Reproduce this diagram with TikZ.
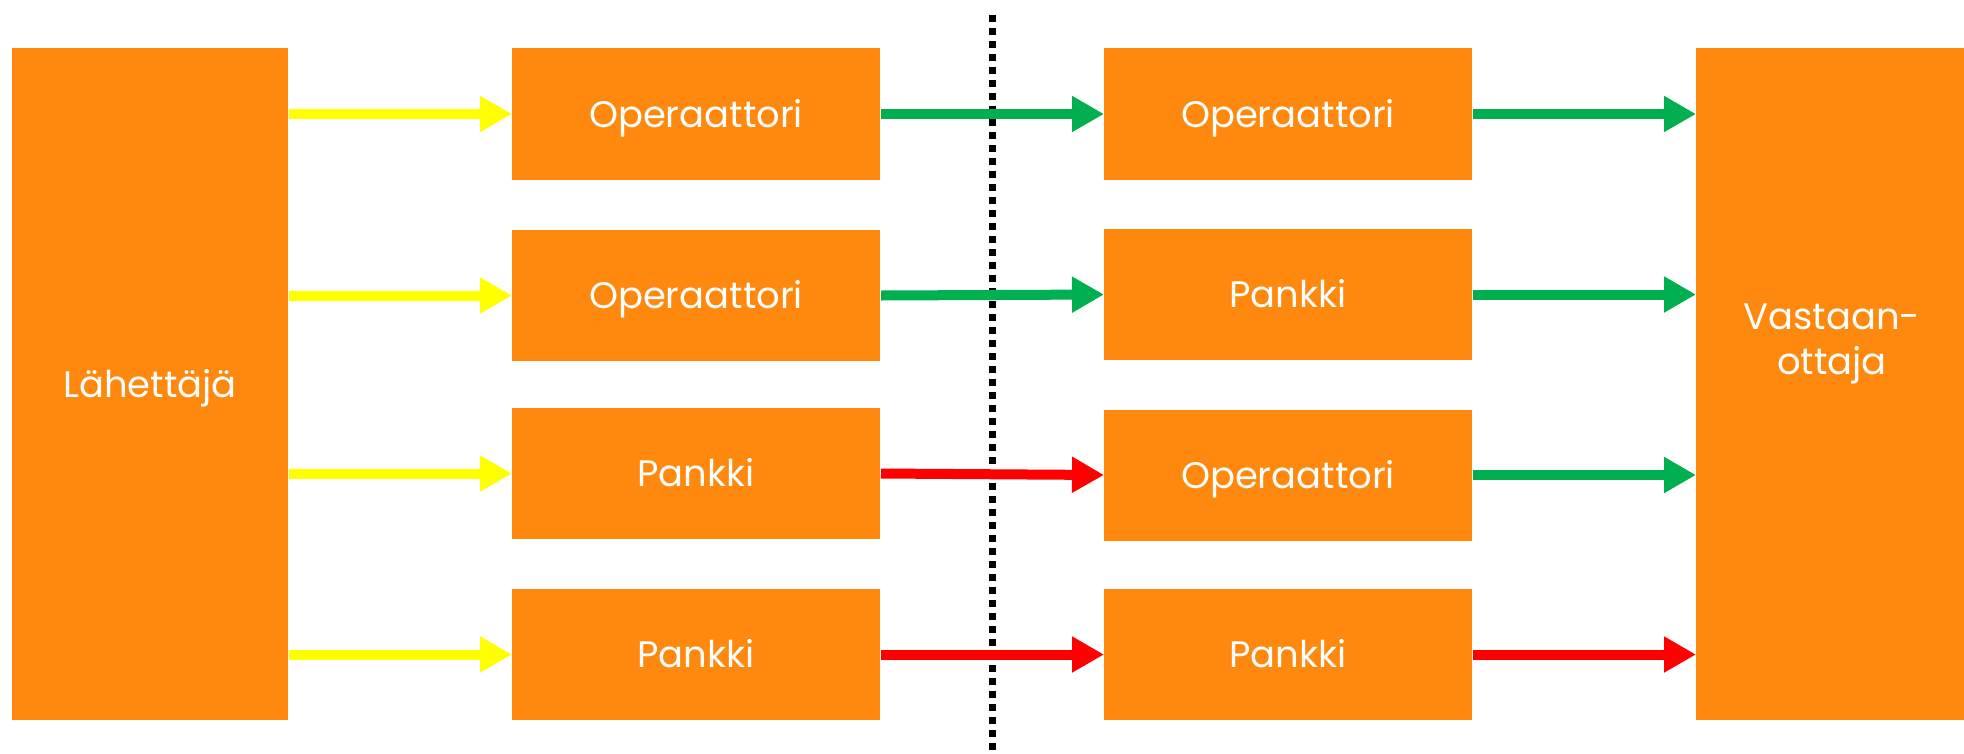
\documentclass[tikz,border=0pt]{standalone}
\usepackage{fontspec}
\setmainfont{Poppins}
\usepackage{tikz}
\usetikzlibrary{arrows.meta,calc}
\definecolor{boxorange}{RGB}{255,136,14}
\definecolor{okgreen}{RGB}{0,176,80}
\definecolor{okyellow}{RGB}{255,255,0}
\definecolor{nored}{RGB}{255,0,0}

\begin{document}
\begin{tikzpicture}[>={Triangle[length=0.32cm,width=0.34cm]},
  line width=0.1cm,
  main node/.style={rectangle,fill=boxorange,inner sep=0pt,outer sep=0pt,text=white,
    font=\fontsize{10.5}{12.8}\selectfont,align=center,text height=7.4pt,text depth=0pt},
  small box/.style={main node,minimum width=3.68cm,minimum height=1.31cm}]
\useasboundingbox (0,0) rectangle (19.64,-7.53);

\node[main node,minimum width=2.76cm,minimum height=6.72cm] (L) at (1.50,-3.84) {Lähettäjä};
\node[main node,minimum width=2.72cm,minimum height=6.72cm,text depth=12.8pt] (V) at (18.32,-3.84) {Vastaan-\\ottaja};

\node[small box,minimum height=1.32cm] (A1) at (6.96,-1.14) {Operaattori};
\node[small box] (A2) at (6.96,-2.955) {Operaattori};
\node[small box] (A3) at (6.96,-4.735) {Pankki};
\node[small box] (A4) at (6.96,-6.545) {Pankki};

\node[small box,minimum height=1.32cm] (B1) at (12.88,-1.14) {Operaattori};
\node[small box] (B2) at (12.88,-2.945) {Pankki};
\node[small box] (B3) at (12.88,-4.75) {Operaattori};
\node[small box] (B4) at (12.88,-6.545) {Pankki};

% raja
\draw[line width=0.07cm,dash pattern=on 0.07cm off 0.06cm] (9.92,-0.15) -- (9.92,-7.53);

\path[->,shorten <=0.01cm]
($(L.east |- A1.west)$) edge [okyellow] (A1.west)
($(L.east |- A2.west)$) edge [okyellow] (A2.west)
($(L.east |- A3.west)$) edge [okyellow] (A3.west)
($(L.east |- A4.west)$) edge [okyellow] (A4.west)
(A1.east) edge [okgreen] (B1.west)
(A2.east) edge [okgreen] (B2.west)
(A3.east) edge [nored] (B3.west)
(A4.east) edge [nored] (B4.west)
(B1.east) edge [okgreen] (V.west |- B1.east)
(B2.east) edge [okgreen] (V.west |- B2.east)
(B3.east) edge [okgreen] (V.west |- B3.east)
(B4.east) edge [nored] (V.west |- B4.east);

\end{tikzpicture}
\end{document}
